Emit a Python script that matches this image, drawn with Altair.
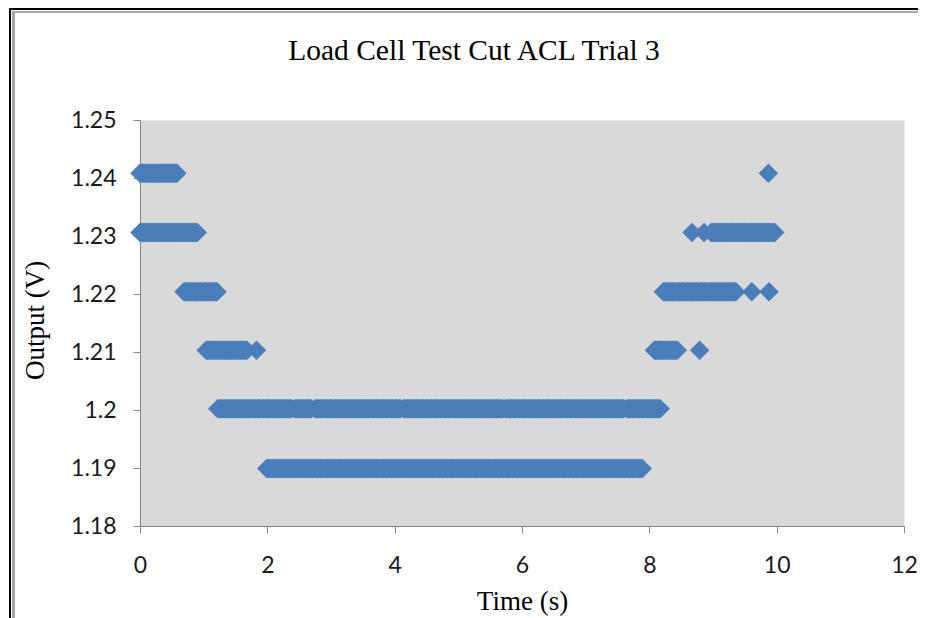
import altair as alt
import numpy as np
import pandas as pd

TITLE = "Load Cell Test Cut ACL Trial 3"
X_TITLE = "Time (s)"
Y_TITLE = "Output (V)"

X_TICKS = [0, 2, 4, 6, 8, 10, 12]
Y_TICKS = [1.18, 1.19, 1.2, 1.21, 1.22, 1.23, 1.24, 1.25]

# Runs of consecutive samples: level (V), first and last time (s)
run_level = [1.2408, 1.2306, 1.2204, 1.2103, 1.2103,
             1.2002, 1.2002, 1.2002, 1.2002, 1.2002, 1.2002,
             1.1899,
             1.2103, 1.2103,
             1.2204, 1.2204, 1.2204,
             1.2306, 1.2306, 1.2306,
             1.2408]
run_start = [0.00, 0.00, 0.69, 1.04, 1.83,
             1.22, 2.43, 2.75, 4.14, 5.74, 7.65,
             1.99,
             8.08, 8.79,
             8.22, 9.61, 9.88,
             8.67, 8.86, 8.97,
             9.87]
run_end = [0.58, 0.91, 1.22, 1.68, 1.83,
           2.38, 2.70, 4.10, 5.70, 7.60, 8.17,
           7.89,
           8.44, 8.79,
           9.36, 9.61, 9.88,
           8.67, 8.86, 9.98,
           9.87]
SAMPLE_STEP = 0.02  # sampling interval of the logger (s)

times, volts = [], []
for lv, a, b in zip(run_level, run_start, run_end):
    ts = np.arange(a, b + 1e-9, SAMPLE_STEP) if b > a else np.array([a])
    times.extend(ts.tolist())
    volts.extend([lv] * len(ts))
df = pd.DataFrame({"t": times, "v": volts})

SERIF = "Liberation Serif"
SANS = "Lato"

points = alt.Chart(df).mark_point(
    shape="diamond", filled=True, size=380, color="#4A7EBB", opacity=1
).encode(
    x=alt.X("t:Q", scale=alt.Scale(domain=[0, 12], nice=False),
            axis=alt.Axis(values=X_TICKS, title=X_TITLE, labelPadding=21,
                          titleX=382, titleY=75, titleBaseline="middle")),
    y=alt.Y("v:Q", scale=alt.Scale(domain=[1.18, 1.25], nice=False, zero=False),
            axis=alt.Axis(values=Y_TICKS, format=".3~f", title=Y_TITLE, labelPadding=17,
                          titleX=-105, titleY=200, titleBaseline="middle", titleAngle=-90)),
)

frame_black_v = alt.Chart(df).mark_rule(color="#000000", strokeWidth=2).encode(
    x=alt.value(-130), y=alt.value(-112), y2=alt.value(500))
frame_black_h = alt.Chart(df).mark_rule(color="#000000", strokeWidth=2).encode(
    x=alt.value(-131), x2=alt.value(800), y=alt.value(-111))
frame_gray_v = alt.Chart(df).mark_rule(color="#A6A6A6", strokeWidth=2.5).encode(
    x=alt.value(-126.5), y=alt.value(-109), y2=alt.value(500))
frame_gray_h = alt.Chart(df).mark_rule(color="#A6A6A6", strokeWidth=2).encode(
    x=alt.value(-128), x2=alt.value(800), y=alt.value(-108))

chart = alt.layer(points, frame_black_v, frame_black_h, frame_gray_v, frame_gray_h).properties(
    width=764,
    height=406,
    title=alt.TitleParams(TITLE, font=SERIF, fontSize=29.5, fontWeight="normal", color="#000000",
                          dx=-48, offset=-59, anchor="middle"),
    autosize=alt.AutoSizeParams(type="none"),
    padding={"left": 132, "top": 112, "right": 14, "bottom": 92},
    background="#FFFFFF",
).configure_view(
    fill="#D9D9D9", stroke="transparent"
).configure_axis(
    grid=False,
    domainColor="#868686",
    tickColor="#868686",
    tickSize=7,
    labelFont=SANS,
    labelFontSize=23,
    labelColor="#1a1a1a",
    titleFont=SERIF,
    titleFontSize=27,
    titleFontWeight="normal",
    titleColor="#000000",
    labelOverlap=False,
    labelFlush=False,
)

chart.save("out.html", embed_options={"renderer": "svg", "actions": False})
